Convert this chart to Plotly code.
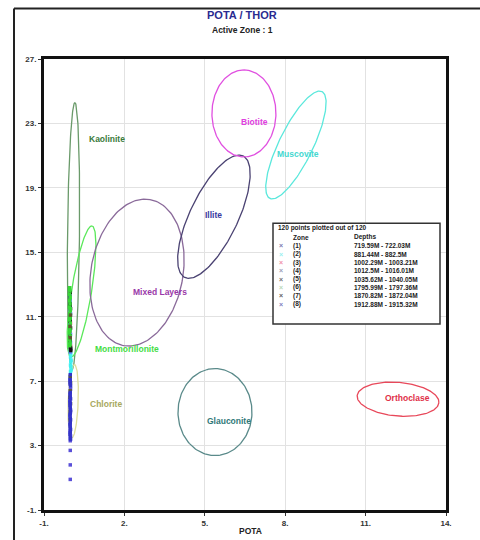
import numpy as np
import plotly.graph_objects as go

# ---------------- data ----------------
zone_names = ["(1)", "(2)", "(3)", "(4)", "(5)", "(6)", "(7)", "(8)"]
zone_depths = ["719.59M - 722.03M", "881.44M - 882.5M", "1002.29M - 1003.21M",
               "1012.5M - 1016.01M", "1035.62M - 1040.05M", "1795.99M - 1797.36M",
               "1870.82M - 1872.04M", "1912.88M - 1915.32M"]
zone_colors = ["#5a50d8", "#40f0f0", "#ff6a8a", "#6a8aff", "#111111", "#38d838", "#5a5a30", "#3434c8"]
legend_marker_colors = ["#7a7ab0", "#9af0f0", "#f090a8", "#9aa0b8", "#707070", "#b8d8b8", "#606060", "#8080c0"]

z1_x = [-0.02, -0.03, -0.01, -0.02, -0.04, -0.02, -0.01, -0.03, -0.02, -0.02, -0.03, -0.01, -0.02, -0.02, -0.02, -0.02]
z1_y = [7.2, 6.9, 6.5, 6.1, 5.8, 5.4, 5.1, 4.8, 4.5, 4.2, 3.9, 3.6, 3.3, 2.7, 1.8, 0.9]
z2_x = [0.0, -0.01, 0.01, 0.0, -0.01, 0.0, 0.01, -0.01]
z2_y = [8.7, 8.5, 8.3, 8.2, 8.0, 7.9, 7.7, 7.6]
z3_x = [-0.03, -0.01, -0.02, -0.04, -0.02, -0.01]
z3_y = [11.3, 10.6, 10.1, 9.7, 12.0, 9.2]
z4_x = [-0.04, -0.02, -0.03, -0.01, -0.02, -0.04, -0.02, -0.01, -0.03, -0.02, -0.01, -0.02, -0.03, -0.04, -0.01, -0.02]
z4_y = [12.3, 11.9, 11.6, 11.2, 10.9, 10.5, 10.2, 9.9, 9.6, 9.3, 9.0, 8.8, 11.4, 10.0, 9.4, 12.1]
z5_x = [-0.02, -0.03, -0.01, -0.02, -0.03, -0.01, -0.02, -0.03, -0.01, 0.0, -0.02, -0.03, -0.02, -0.01]
z5_y = [12.2, 11.8, 11.5, 11.0, 10.7, 10.3, 9.8, 9.5, 9.1, 8.9, 10.8, 11.7, 12.5, 9.0]
z6_x = [-0.04, -0.03, -0.05, -0.02, -0.04, -0.03, -0.05, -0.02, -0.04, -0.03, -0.05, -0.02, -0.04, -0.03,
        -0.05, -0.02, -0.04, -0.03, -0.04, -0.05, -0.02, -0.03, -0.04, -0.03]
z6_y = [12.8, 12.6, 12.4, 12.2, 12.0, 11.8, 11.6, 11.4, 11.2, 11.0, 10.8, 10.6, 10.4, 10.2,
        10.0, 9.8, 9.6, 9.4, 9.2, 12.7, 11.5, 10.9, 10.1, 9.3]
z7_x = [-0.02, -0.01, -0.02, -0.03, -0.01, -0.02, -0.02, -0.03, -0.01, -0.02]
z7_y = [7.3, 6.9, 6.4, 6.0, 5.6, 5.1, 4.6, 10.4, 11.1, 9.7]
z8_x = [-0.02, -0.03, -0.02, -0.01, -0.02, -0.03, -0.02, -0.01, -0.02, -0.03, -0.02, -0.01, -0.02,
        -0.03, -0.02, -0.01, -0.02, -0.03, -0.02, -0.01, -0.02, -0.03, -0.02, -0.01, -0.02, -0.03]
z8_y = [7.4, 7.1, 6.8, 6.7, 6.3, 6.2, 6.0, 5.9, 5.6, 5.5, 5.3, 5.2, 5.0, 4.9, 4.7, 4.6,
        4.4, 4.3, 4.1, 4.0, 3.8, 3.7, 3.5, 3.4, 7.0, 5.7]
zones_x = [z1_x, z2_x, z3_x, z4_x, z5_x, z6_x, z7_x, z8_x]
zones_y = [z1_y, z2_y, z3_y, z4_y, z5_y, z6_y, z7_y, z8_y]

minerals = ["Kaolinite", "Montmorillonite", "Chlorite", "Mixed Layers", "Illite",
            "Biotite", "Muscovite", "Glauconite", "Orthoclase"]
min_cx = [0.10, 0.40, 0.09, 2.47, 5.34, 6.46, 8.40, 5.38, 12.21]
min_cy = [16.01, 12.57, 5.76, 13.74, 17.21, 23.62, 21.66, 5.08, 5.88]
min_a = [135, 67, 37, 75, 68, 44, 60, 44, 41]      # semi-major (screen px)
min_b = [6, 10, 5, 46, 24, 32, 17, 37, 17]         # semi-minor (screen px)
min_ang = [89.4, 81, 88, 80, 64.7, 90, 64.3, 90, -5]
min_line = ["#6a9a6a", "#5ae85a", "#dede9a", "#8a6a9a", "#4a4272", "#e050e0", "#5ae8dc", "#5a8a8a", "#e8485a"]
min_text = ["#3a7a3a", "#44dd44", "#a8a860", "#9a38a8", "#3a3aa0", "#e040e0", "#44d8d0", "#307878", "#e03048"]
lab_x = [1.35, 2.10, 1.31, 3.33, 5.34, 6.84, 8.48, 5.90, 12.58]
lab_y = [22.03, 9.01, 5.58, 12.51, 17.3, 23.07, 21.11, 4.53, 5.94]

x_ticks = [-1, 2, 5, 8, 11, 14]
y_ticks = [-1, 3, 7, 11, 15, 19, 23, 27]

# --------------- figure ---------------
SX, SY = 26.8, 16.29   # screen px per data unit (x, y)
fig = go.Figure()

t = np.linspace(0, 2 * np.pi, 181)
for i, name in enumerate(minerals):
    th = np.radians(min_ang[i])
    u = min_a[i] * np.cos(t) * np.cos(th) - min_b[i] * np.sin(t) * np.sin(th)
    v = min_a[i] * np.cos(t) * np.sin(th) + min_b[i] * np.sin(t) * np.cos(th)
    fig.add_trace(go.Scatter(x=min_cx[i] + u / SX, y=min_cy[i] + v / SY, mode="lines",
                             line=dict(color=min_line[i], width=1.3), hoverinfo="skip",
                             showlegend=False))
    fig.add_annotation(x=lab_x[i], y=lab_y[i], text="<b>%s</b>" % name, showarrow=False,
                       yanchor="middle",
                       font=dict(size=8.5, color=min_text[i], family="Liberation Sans"))

for k in range(8):
    fig.add_trace(go.Scatter(x=zones_x[k], y=zones_y[k], mode="markers",
                             marker=dict(symbol="square", size=3.5, color=zone_colors[k]),
                             name=zone_names[k], showlegend=False))

# legend box
def py2p(py):
    return (515 - py) / 456.0
def px2p(px):
    return (px - 44) / 402.0
fig.add_shape(type="rect", xref="paper", yref="paper", x0=px2p(273), x1=px2p(440),
              y0=py2p(327), y1=py2p(225),
              line=dict(color="#333", width=1.5), fillcolor="white", layer="above")
lfont = dict(size=6.5, color="#222", family="Liberation Sans")
fig.add_annotation(xref="paper", yref="paper", x=px2p(276), y=py2p(230), xanchor="left", yanchor="middle",
                   text="<b>120 points plotted out of 120</b>", showarrow=False, font=lfont)
fig.add_annotation(xref="paper", yref="paper", x=px2p(291), y=py2p(239), xanchor="left", yanchor="middle",
                   text="<b>Zone</b>", showarrow=False, font=lfont)
fig.add_annotation(xref="paper", yref="paper", x=px2p(352), y=py2p(239), xanchor="left", yanchor="middle",
                   text="<b>Depths</b>", showarrow=False, font=lfont)
for k in range(8):
    yy = py2p(248 + 8.4 * k)
    fig.add_annotation(xref="paper", yref="paper", x=px2p(281), y=yy, text="<b>×</b>", yanchor="middle",
                       showarrow=False, font=dict(size=7, color=legend_marker_colors[k], family="Liberation Sans"))
    fig.add_annotation(xref="paper", yref="paper", x=px2p(291), y=yy, xanchor="left", yanchor="middle",
                       text="<b>%s</b>" % zone_names[k], showarrow=False, font=lfont)
    fig.add_annotation(xref="paper", yref="paper", x=px2p(352), y=yy, xanchor="left", yanchor="middle",
                       text="<b>%s</b>" % zone_depths[k], showarrow=False, font=lfont)

# outer frame
fig.add_shape(type="line", xref="paper", yref="paper", x0=px2p(14), x1=px2p(14), y0=-0.2, y1=py2p(8),
              line=dict(color="#222", width=2))
fig.add_shape(type="line", xref="paper", yref="paper", x0=px2p(14), x1=1.2, y0=py2p(8), y1=py2p(8),
              line=dict(color="#222", width=2))

# titles
fig.add_annotation(xref="paper", yref="paper", x=px2p(242), y=py2p(15), text="<b>POTA / THOR</b>",
                   yanchor="middle", showarrow=False,
                   font=dict(size=11, color="#2a2a90", family="Liberation Sans"))
fig.add_annotation(xref="paper", yref="paper", x=px2p(242), y=py2p(30), text="<b>Active Zone : 1</b>",
                   yanchor="middle", showarrow=False,
                   font=dict(size=8.5, color="#222", family="Liberation Sans"))
fig.add_annotation(xref="paper", yref="paper", x=px2p(250), y=py2p(536), text="<b>POTA</b>",
                   yanchor="middle", showarrow=False,
                   font=dict(size=8.5, color="#222", family="Liberation Sans"))

axis_common = dict(showgrid=True, gridcolor="#e2e2e2", gridwidth=1, zeroline=False,
                   showline=True, linecolor="#111", linewidth=3, mirror=True,
                   ticks="outside", ticklen=3, tickcolor="#333",
                   tickfont=dict(size=8, color="#333", family="Liberation Sans"))
fig.update_xaxes(range=[-1, 14], tickvals=x_ticks, ticktext=["<b>%d.</b>" % v for v in x_ticks],
                 **axis_common)
fig.update_yaxes(range=[-1, 27], tickvals=y_ticks, ticktext=["<b>%d.</b>" % v for v in y_ticks],
                 **axis_common)

fig.update_layout(width=480, height=540, margin=dict(l=44, r=34, t=59, b=25),
                  plot_bgcolor="white", paper_bgcolor="white", showlegend=False)

fig.write_html("out.html", config={"displayModeBar": False},
               post_script="document.body.style.margin='0';document.body.style.padding='0';")
